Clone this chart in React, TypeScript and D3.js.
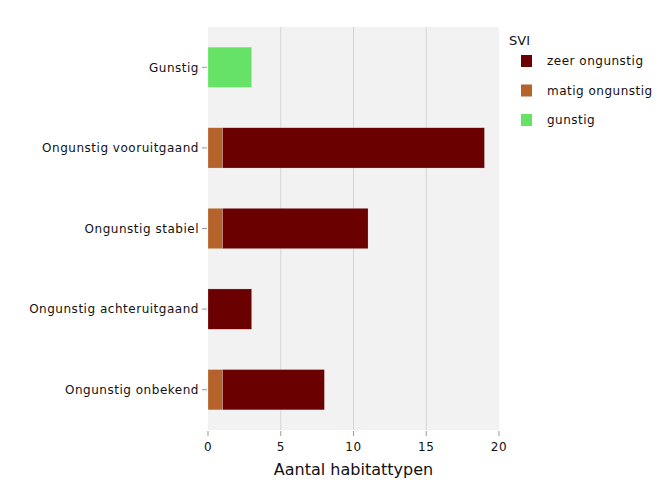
import React from "react";
import * as d3 from "d3";

const categories = [
  "Gunstig",
  "Ongunstig vooruitgaand",
  "Ongunstig stabiel",
  "Ongunstig achteruitgaand",
  "Ongunstig onbekend",
];
const seriesNames = ["zeer ongunstig", "matig ongunstig", "gunstig"];
const zeerOngunstig = [0, 18, 10, 3, 7];
const matigOngunstig = [0, 1, 1, 0, 1];
const gunstig = [3, 0, 0, 0, 0];
const xTicks = [0, 5, 10, 15, 20];
const colors = ["#6b0000", "#b5632a", "#66e366"];

export default function App() {
  const W = 672, H = 480;
  const left = 208, right = 499, top = 27, bottom = 430;
  const x = d3.scaleLinear().domain([0, 20]).range([left, right]);
  const y = d3.scaleBand().domain(categories).range([top, bottom]).padding(0.5).paddingOuter(0.25);
  const font = "'DejaVu Sans', Verdana, sans-serif";

  const segs: { cat: string; x0: number; x1: number; color: string }[] = [];
  categories.forEach((c, i) => {
    let acc = 0;
    const parts = [
      { v: matigOngunstig[i], color: colors[1] },
      { v: zeerOngunstig[i], color: colors[0] },
      { v: gunstig[i], color: colors[2] },
    ];
    parts.forEach((p) => {
      if (p.v > 0) {
        segs.push({ cat: c, x0: acc, x1: acc + p.v, color: p.color });
        acc += p.v;
      }
    });
  });

  return (
    <svg width={W} height={H} style={{ position: "absolute", left: 0, top: 0, fontFamily: font }}>
      <rect x={0} y={0} width={W} height={H} fill="#fff" />
      <rect x={left} y={top} width={right - left} height={bottom - top} fill="#f2f2f2" />
      {xTicks.filter((t) => t > 0 && t < 20).map((t) => (
        <line key={t} x1={x(t)} x2={x(t)} y1={top} y2={bottom} stroke="#d4d4d4" strokeWidth={1} />
      ))}
      {segs.map((s, i) => (
        <rect
          key={i}
          x={x(s.x0)}
          y={y(s.cat)}
          width={x(s.x1) - x(s.x0)}
          height={y.bandwidth()}
          fill={s.color}
          stroke="rgba(255,255,255,0.4)"
          strokeWidth={0.5}
        />
      ))}
      {xTicks.map((t) => (
        <g key={t}>
          <line x1={x(t)} x2={x(t)} y1={bottom + 1} y2={bottom + 6} stroke="#999" strokeWidth={1} />
          <text x={x(t)} y={bottom + 21} textAnchor="middle" fontSize={12} letterSpacing={0.5} fill="#111">{t}</text>
        </g>
      ))}
      {categories.map((c) => {
        const cy = (y(c) as number) + y.bandwidth() / 2;
        return (
          <g key={c}>
            <line x1={left - 6} x2={left - 1} y1={cy} y2={cy} stroke="#999" strokeWidth={1} />
            <text x={left - 9} y={cy} dy="0.35em" textAnchor="end" fontSize={12} letterSpacing={0.52} fill="#111">{c}</text>
          </g>
        );
      })}
      <text x={(left + right) / 2} y={475} textAnchor="middle" fontSize={16} fill="#111">Aantal habitattypen</text>
      <text x={509} y={45} fontSize={13} fill="#111">SVI</text>
      {seriesNames.map((n, i) => (
        <g key={n} transform={`translate(0, ${61 + i * 29.5})`}>
          <rect x={521} y={-6} width={11} height={12} fill={colors[i]} />
          <text x={547} y={0} dy="0.35em" fontSize={12} letterSpacing={0.5} fill="#111">{n}</text>
        </g>
      ))}
    </svg>
  );
}
